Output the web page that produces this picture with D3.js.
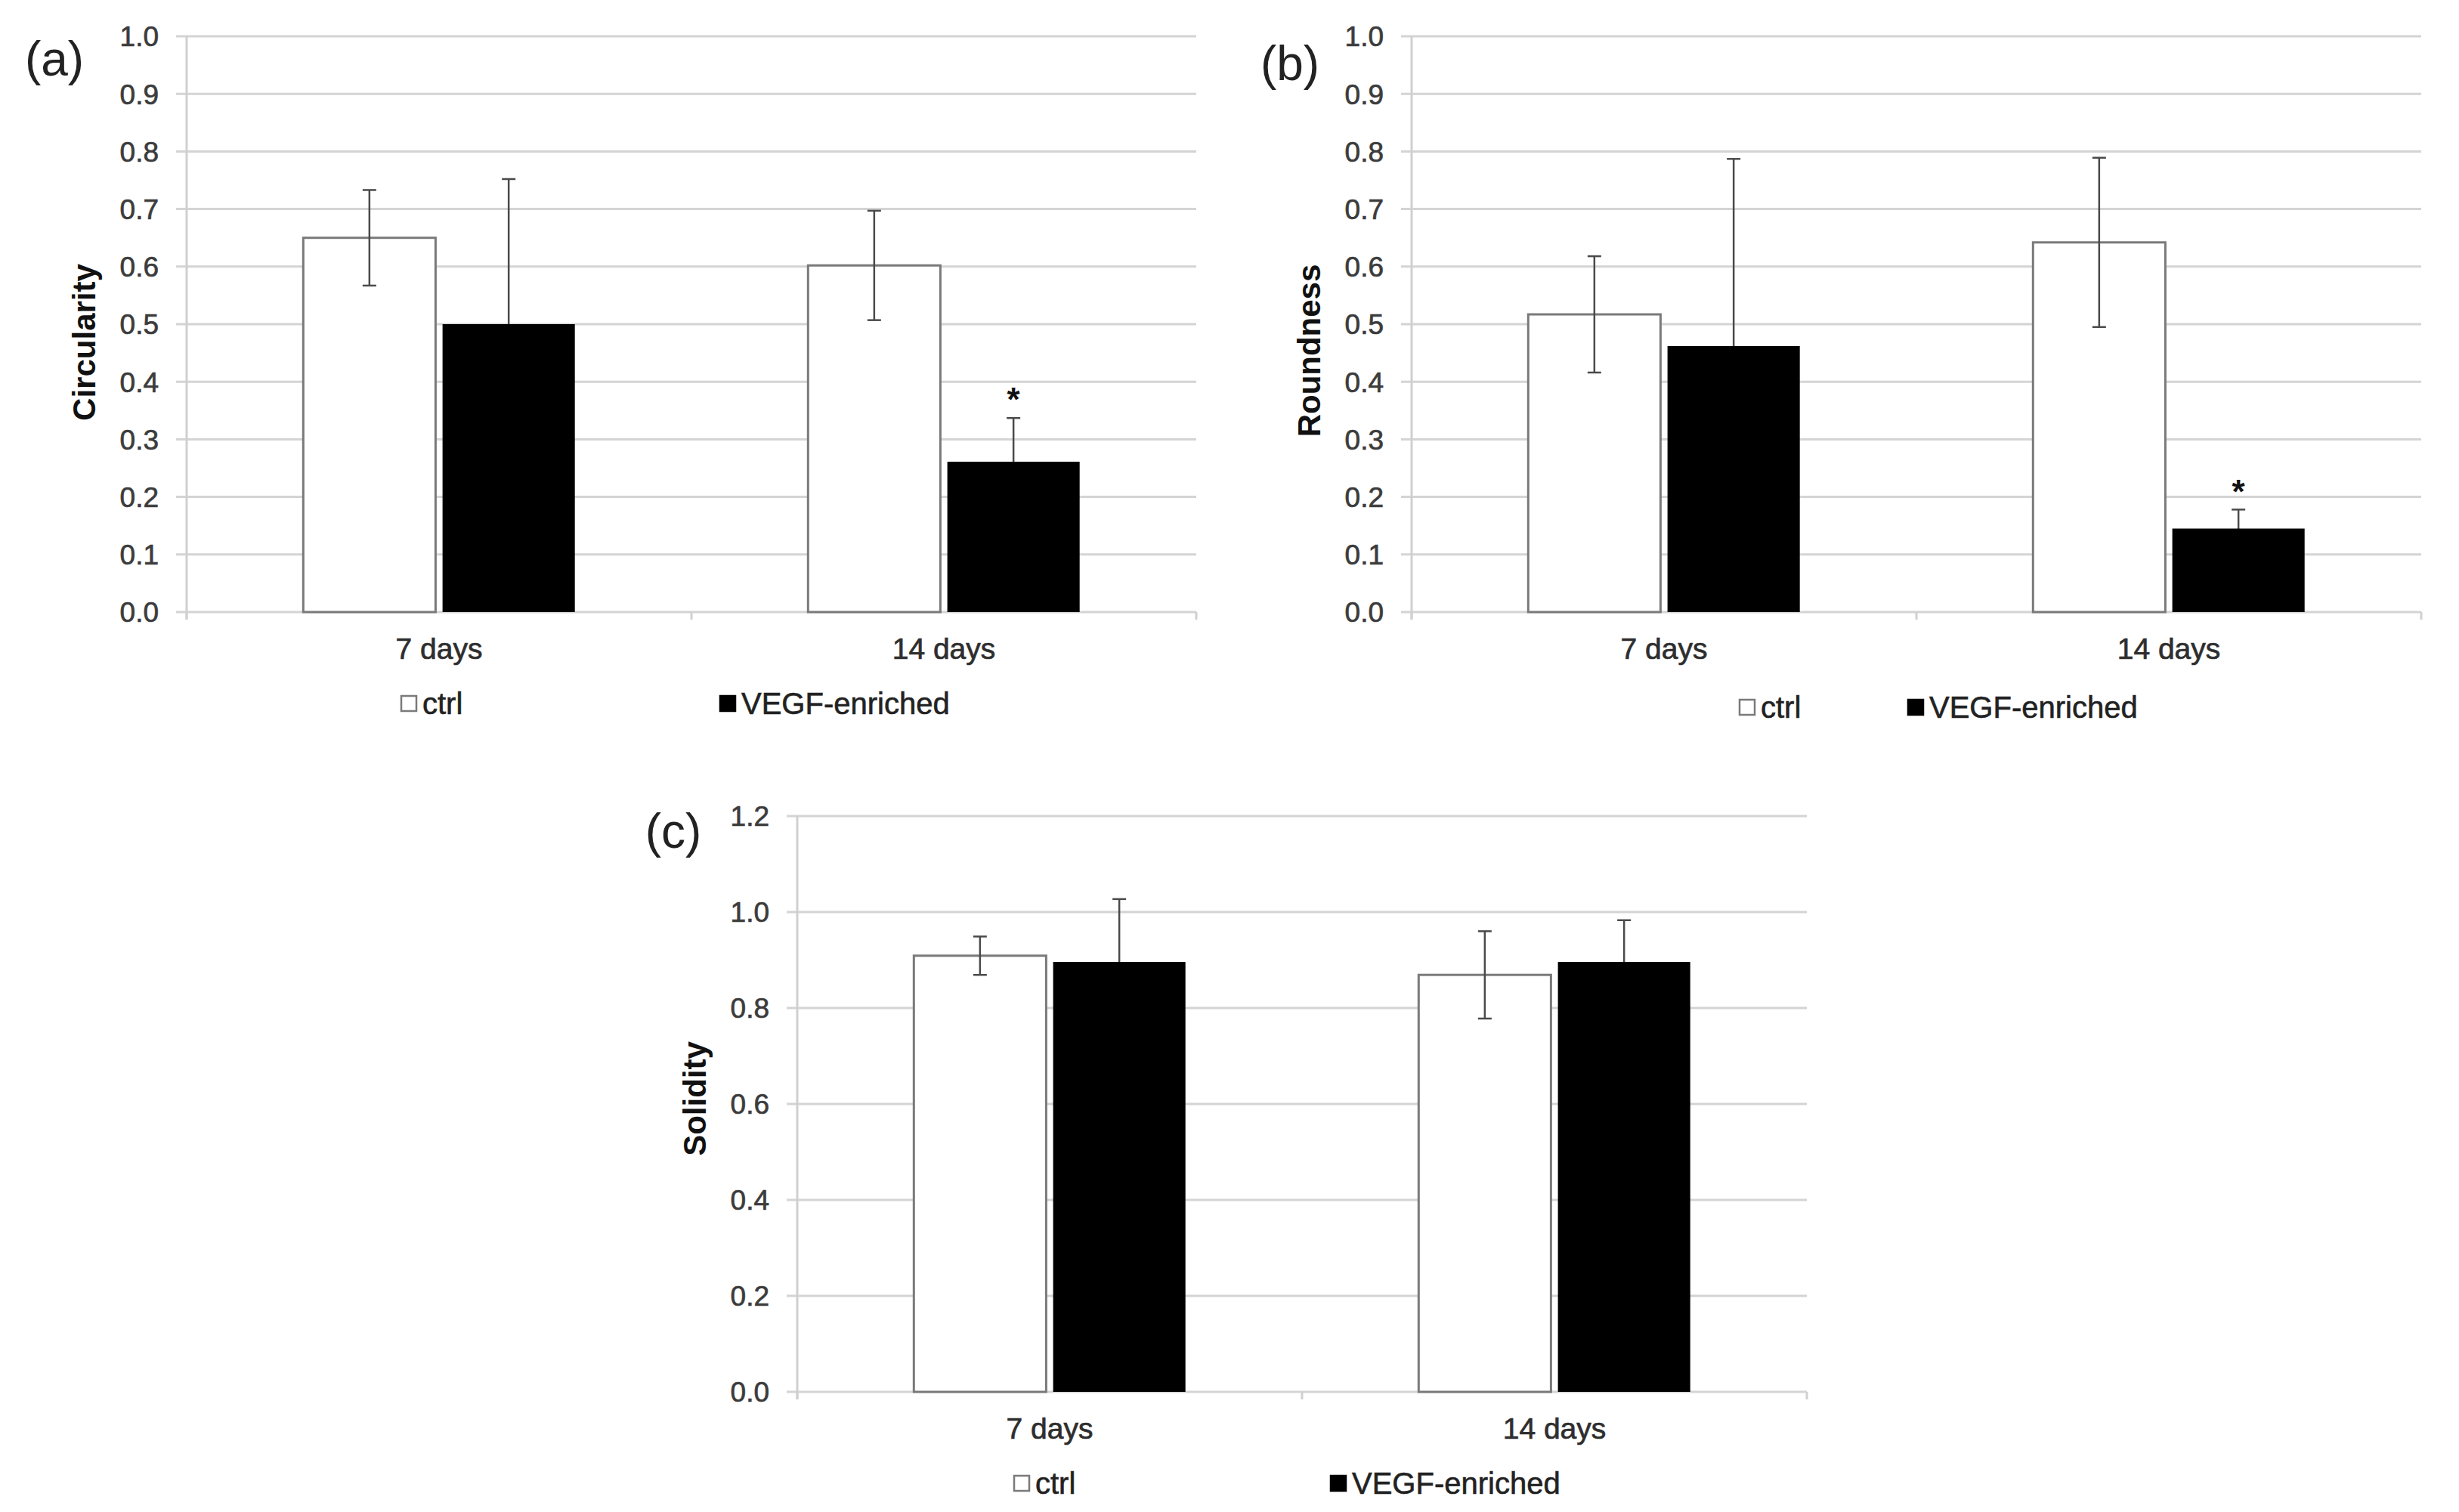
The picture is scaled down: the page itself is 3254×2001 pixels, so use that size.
<!DOCTYPE html>
<html>
<head>
<meta charset="utf-8">
<script src="https://cdn.jsdelivr.net/npm/d3@7"></script>
<style>
  body { margin: 0; background: #fff; }
  text { font-family: "Liberation Sans", Arial, sans-serif; }
</style>
</head>
<body>
<div id="chart"></div>
<script>
// Data
var categories = ["7 days", "14 days"];
var seriesNames = ["ctrl", "VEGF-enriched"];

var circularityCtrl = [0.650, 0.602];
var circularityCtrlErr = [0.083, 0.095];
var circularityVegf = [0.500, 0.261];
var circularityVegfErr = [0.252, 0.076];

var roundnessCtrl = [0.517, 0.642];
var roundnessCtrlErr = [0.101, 0.147];
var roundnessVegf = [0.462, 0.145];
var roundnessVegfErr = [0.325, 0.033];

var solidityCtrl = [0.909, 0.869];
var solidityCtrlErr = [0.040, 0.091];
var solidityVegf = [0.896, 0.896];
var solidityVegfErr = [0.131, 0.087];

// significance marks: [category index, series index]
var circularityStars = [[1, 1]];
var roundnessStars = [[1, 1]];
var solidityStars = [];

var ticksA = [0, 0.1, 0.2, 0.3, 0.4, 0.5, 0.6, 0.7, 0.8, 0.9, 1.0];
var ticksC = [0, 0.2, 0.4, 0.6, 0.8, 1.0, 1.2];

// Chart Params
var svgWidth = 3254;
var svgHeight = 2001;

var svg = d3.select("#chart")
  .append("svg")
  .attr("width", svgWidth)
  .attr("height", svgHeight);

var panels = [
  { tag: "(a)", title: "Circularity", left: 247, top: 48, max: 1.0, ticks: ticksA,
    ctrl: circularityCtrl, ctrlErr: circularityCtrlErr, vegf: circularityVegf, vegfErr: circularityVegfErr,
    stars: circularityStars, titleDy: 24, tagX: 72, tagY: 77, legend: [284, 706], legendDy: 121 },
  { tag: "(b)", title: "Roundness", left: 1868, top: 48, max: 1.0, ticks: ticksA,
    ctrl: roundnessCtrl, ctrlErr: roundnessCtrlErr, vegf: roundnessVegf, vegfErr: roundnessVegfErr,
    stars: roundnessStars, titleDy: 35, tagX: 1707, tagY: 83, legend: [434, 657], legendDy: 126 },
  { tag: "(c)", title: "Solidity", left: 1055, top: 1080, max: 1.2, ticks: ticksC,
    ctrl: solidityCtrl, ctrlErr: solidityCtrlErr, vegf: solidityVegf, vegfErr: solidityVegfErr,
    stars: solidityStars, titleDy: -7, tagX: 891, tagY: 1099, legend: [287, 706], legendDy: 121 }
];

var width = 1336;
var height = 762;

panels.forEach(function(p) {
  var g = svg.append("g")
    .attr("transform", `translate(${p.left}, ${p.top})`);

  var y = d3.scaleLinear().domain([0, p.max]).range([height, 0]);
  var x0 = d3.scaleBand().domain(categories).range([0, width]);
  var bw = x0.bandwidth();
  var x1 = d3.scaleBand().domain(seriesNames)
    .range([bw * 0.231, bw * 0.769])
    .paddingInner(0.05);

  // gridlines + y ticks
  g.append("g")
    .selectAll("line")
    .data(p.ticks)
    .enter()
    .append("line")
    .attr("x1", -14)
    .attr("x2", width)
    .attr("y1", d => y(d))
    .attr("y2", d => y(d))
    .attr("stroke", "#d4d4d4")
    .attr("stroke-width", 3);

  // y axis line
  g.append("line")
    .attr("x1", 0).attr("x2", 0)
    .attr("y1", 0).attr("y2", height + 10)
    .attr("stroke", "#d0d0d0")
    .attr("stroke-width", 3);

  // x axis ticks at category boundaries
  g.append("g")
    .selectAll("line")
    .data([0, 1, 2])
    .enter()
    .append("line")
    .attr("x1", d => d * bw)
    .attr("x2", d => d * bw)
    .attr("y1", height)
    .attr("y2", height + 10)
    .attr("stroke", "#d0d0d0")
    .attr("stroke-width", 3);

  // y tick labels
  g.append("g")
    .selectAll("text")
    .data(p.ticks)
    .enter()
    .append("text")
    .attr("x", -37)
    .attr("y", d => y(d))
    .attr("dy", "0.36em")
    .attr("text-anchor", "end")
    .attr("font-size", 37)
    .attr("fill", "#3c3c3c")
    .attr("stroke", "#3c3c3c")
    .attr("stroke-width", 0.7)
    .text(d => d.toFixed(1));

  // category labels
  g.append("g")
    .selectAll("text")
    .data(categories)
    .enter()
    .append("text")
    .attr("x", d => x0(d) + bw / 2)
    .attr("y", height + 48)
    .attr("dy", "0.36em")
    .attr("text-anchor", "middle")
    .attr("font-size", 39)
    .attr("fill", "#2e2e2e")
    .attr("stroke", "#2e2e2e")
    .attr("stroke-width", 0.7)
    .text(d => d);

  var ctrlData = categories.map((c, i) => ({ cat: c, s: seriesNames[0], v: p.ctrl[i], e: p.ctrlErr[i] }));
  var vegfData = categories.map((c, i) => ({ cat: c, s: seriesNames[1], v: p.vegf[i], e: p.vegfErr[i] }));

  // ctrl bars (white)
  g.append("g")
    .selectAll("rect")
    .data(ctrlData)
    .enter()
    .append("rect")
    .attr("x", d => x0(d.cat) + x1(d.s))
    .attr("y", d => y(d.v))
    .attr("width", x1.bandwidth())
    .attr("height", d => height - y(d.v))
    .attr("fill", "#fff")
    .attr("stroke", "#7a7a7a")
    .attr("stroke-width", 3);

  // error bars
  var errData = ctrlData.concat(vegfData);
  var eg = g.append("g")
    .selectAll("g")
    .data(errData)
    .enter()
    .append("g")
    .attr("stroke", "#4a4a4a")
    .attr("stroke-width", 2.5);

  eg.append("line")
    .attr("x1", d => x0(d.cat) + x1(d.s) + x1.bandwidth() / 2)
    .attr("x2", d => x0(d.cat) + x1(d.s) + x1.bandwidth() / 2)
    .attr("y1", d => y(d.v - d.e))
    .attr("y2", d => y(d.v + d.e));
  eg.append("line")
    .attr("x1", d => x0(d.cat) + x1(d.s) + x1.bandwidth() / 2 - 9)
    .attr("x2", d => x0(d.cat) + x1(d.s) + x1.bandwidth() / 2 + 9)
    .attr("y1", d => y(d.v + d.e))
    .attr("y2", d => y(d.v + d.e));
  eg.append("line")
    .attr("x1", d => x0(d.cat) + x1(d.s) + x1.bandwidth() / 2 - 9)
    .attr("x2", d => x0(d.cat) + x1(d.s) + x1.bandwidth() / 2 + 9)
    .attr("y1", d => y(d.v - d.e))
    .attr("y2", d => y(d.v - d.e));

  // VEGF bars (black) drawn over the lower half of their error bars
  g.append("g")
    .selectAll("rect")
    .data(vegfData)
    .enter()
    .append("rect")
    .attr("x", d => x0(d.cat) + x1(d.s))
    .attr("y", d => y(d.v))
    .attr("width", x1.bandwidth())
    .attr("height", d => height - y(d.v))
    .attr("fill", "#000");

  // significance stars
  g.append("g")
    .selectAll("text")
    .data(p.stars)
    .enter()
    .append("text")
    .attr("x", d => x0(categories[d[0]]) + x1(seriesNames[d[1]]) + x1.bandwidth() / 2)
    .attr("y", d => {
      var v = d[1] === 0 ? p.ctrl[d[0]] + p.ctrlErr[d[0]] : p.vegf[d[0]] + p.vegfErr[d[0]];
      return y(v) - 36;
    })
    .attr("dy", "0.62em")
    .attr("text-anchor", "middle")
    .attr("font-size", 44)
    .attr("font-weight", "bold")
    .attr("fill", "#111")
    .text("*");

  // y-axis title
  g.append("text")
    .attr("text-anchor", "middle")
    .attr("transform", `translate(-136, ${height / 2 + p.titleDy})rotate(-90)`)
    .attr("dy", "0.35em")
    .attr("font-size", 42)
    .attr("font-weight", "bold")
    .attr("fill", "#111")
    .text(p.title);

  // legend
  var lg = g.append("g")
    .attr("transform", `translate(0, ${height + p.legendDy})`);
  seriesNames.forEach(function(s, i) {
    lg.append("rect")
      .attr("x", p.legend[i])
      .attr("y", -10)
      .attr("width", 20)
      .attr("height", 20)
      .attr("fill", i === 0 ? "#fff" : "#000")
      .attr("stroke", i === 0 ? "#7a7a7a" : "#000")
      .attr("stroke-width", 2.5);
    lg.append("text")
      .attr("x", p.legend[i] + 28)
      .attr("y", 0)
      .attr("dy", "0.36em")
      .attr("font-size", 40)
      .attr("fill", "#222")
      .attr("stroke", "#222")
      .attr("stroke-width", 0.6)
      .text(s);
  });

  // panel tag
  svg.append("text")
    .attr("x", p.tagX)
    .attr("y", p.tagY)
    .attr("dy", "0.36em")
    .attr("text-anchor", "middle")
    .attr("font-size", 64)
    .attr("fill", "#222")
    .text(p.tag);
});
</script>
</body>
</html>
